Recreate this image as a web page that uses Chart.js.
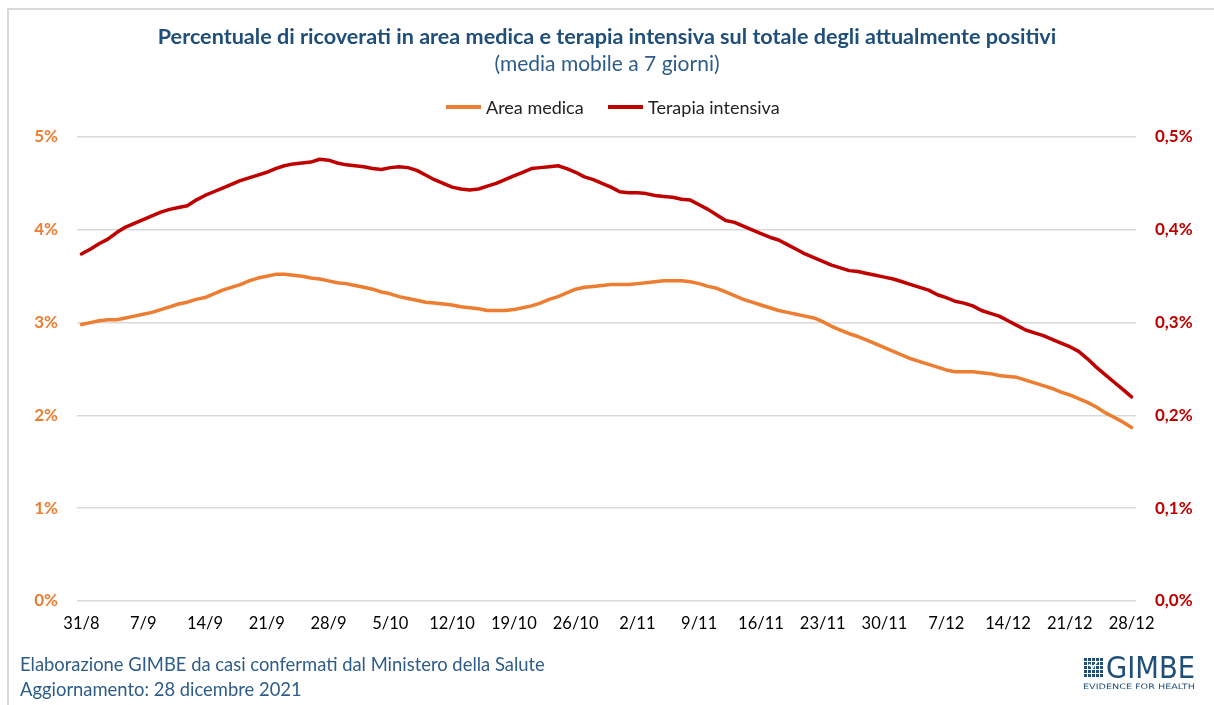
<!DOCTYPE html>
<html><head><meta charset="utf-8">
<script src="https://cdn.jsdelivr.net/npm/chart.js@4"></script>
<style>
html,body{margin:0;padding:0;background:#fff;}
#wrap{position:relative;width:1214px;height:705px;overflow:hidden;font-family:Lato,"Open Sans",sans-serif;background:#fff;}
#frame{position:absolute;left:7px;top:8px;width:1300px;height:800px;border-left:2px solid #d9d9d9;border-top:2px solid #d9d9d9;}
#c{position:absolute;left:0;top:0;}
.t{position:absolute;white-space:nowrap;}
#title{left:0;width:1214px;text-align:center;top:23px;font-weight:bold;font-size:21.6px;color:#1F4E79;}
#sub{left:0;width:1214px;text-align:center;top:50px;font-size:21px;color:#2E5C8A;}
.lg{position:absolute;height:4px;top:105px;width:35px;}
.lt{position:absolute;top:96px;font-size:18px;color:#222;}
.ft{position:absolute;left:20px;font-size:18.4px;color:#2E5C8A;}
#logo{position:absolute;left:1080px;top:650px;}
</style></head>
<body>
<div id="wrap">
 <div id="frame"></div>
 <canvas id="c" width="1214" height="705"></canvas>
 <div class="t" id="title">Percentuale di ricoverati in area medica e terapia intensiva sul totale degli attualmente positivi</div>
 <div class="t" id="sub">(media mobile a 7 giorni)</div>
 <div class="lg" style="left:446px;background:#ED7D31"></div>
 <div class="lt" style="left:486px">Area medica</div>
 <div class="lg" style="left:608px;background:#C00000"></div>
 <div class="lt" style="left:648px">Terapia intensiva</div>
 <div class="ft" style="top:653px">Elaborazione GIMBE da casi confermati dal Ministero della Salute</div>
 <div class="ft" style="top:678px">Aggiornamento: 28 dicembre 2021</div>
 <svg id="logo" width="125" height="45" viewBox="0 0 125 45">
   <defs>
     <pattern id="gp" width="4" height="4" patternUnits="userSpaceOnUse">
       <rect width="4" height="4" fill="#fff"/>
       <rect width="3" height="3" fill="#1F4E79"/>
     </pattern>
   </defs>
   <rect x="3" y="7" width="20" height="20" fill="url(#gp)"/>
   <path d="M9 14 L12.5 18 L17 12" stroke="#fff" stroke-width="1.6" fill="none"/>
   <text x="26" y="28" font-family="DejaVu Sans Condensed, Liberation Sans, sans-serif" font-size="30" fill="#1F4E79" textLength="89" lengthAdjust="spacingAndGlyphs">GIMBE</text>
   <text x="3" y="39" font-family="DejaVu Sans, Liberation Sans, sans-serif" font-size="7.5" fill="#1F4E79" textLength="112" lengthAdjust="spacingAndGlyphs">EVIDENCE FOR HEALTH</text>
 </svg>
</div>
<script>
// Dates: 31/8/2021 .. 28/12/2021 (120 days)
const startDate = [2021, 7, 31];
const nDays = 120;
const categories = [];
for (let i = 0; i < nDays; i++) {
  const d = new Date(startDate[0], startDate[1], startDate[2] + i);
  categories.push(d.getDate() + '/' + (d.getMonth() + 1));
}
const tickLabels = ['31/8','7/9','14/9','21/9','28/9','5/10','12/10','19/10','26/10','2/11','9/11','16/11','23/11','30/11','7/12','14/12','21/12','28/12'];

// Area medica (% on left axis)
const areaMedica = [
 2.98,3.00,3.02,3.03,3.03,3.05,3.07,3.09,3.11,3.14,
 3.17,3.20,3.22,3.25,3.27,3.31,3.35,3.38,3.41,3.45,
 3.48,3.50,3.52,3.52,3.51,3.50,3.48,3.47,3.45,3.43,
 3.42,3.40,3.38,3.36,3.33,3.31,3.28,3.26,3.24,3.22,
 3.21,3.20,3.19,3.17,3.16,3.15,3.13,3.13,3.13,3.14,
 3.16,3.18,3.21,3.25,3.28,3.32,3.36,3.38,3.39,3.40,
 3.41,3.41,3.41,3.42,3.43,3.44,3.45,3.45,3.45,3.44,
 3.42,3.39,3.37,3.33,3.29,3.25,3.22,3.19,3.16,3.13,
 3.11,3.09,3.07,3.05,3.01,2.96,2.92,2.88,2.85,2.81,
 2.77,2.73,2.69,2.65,2.61,2.58,2.55,2.52,2.49,2.47,
 2.47,2.47,2.46,2.45,2.43,2.42,2.41,2.38,2.35,2.32,
 2.29,2.25,2.22,2.18,2.14,2.09,2.03,1.98,1.93,1.87
];
// Terapia intensiva (% on right axis)
const terapiaIntensiva = [
 0.374,0.379,0.385,0.390,0.397,0.403,0.407,0.411,0.415,0.419,
 0.422,0.424,0.426,0.432,0.437,0.441,0.445,0.449,0.453,0.456,
 0.459,0.462,0.466,0.469,0.471,0.472,0.473,0.476,0.475,0.472,
 0.470,0.469,0.468,0.466,0.465,0.467,0.468,0.467,0.464,0.459,
 0.454,0.450,0.446,0.444,0.443,0.444,0.447,0.450,0.454,0.458,
 0.462,0.466,0.467,0.468,0.469,0.466,0.462,0.457,0.454,0.450,
 0.446,0.441,0.440,0.440,0.439,0.437,0.436,0.435,0.433,0.432,
 0.427,0.422,0.416,0.410,0.408,0.404,0.400,0.396,0.392,0.389,
 0.384,0.379,0.374,0.370,0.366,0.362,0.359,0.356,0.355,0.353,
 0.351,0.349,0.347,0.344,0.341,0.338,0.335,0.330,0.327,0.323,
 0.321,0.318,0.313,0.310,0.307,0.302,0.297,0.292,0.289,0.286,
 0.282,0.278,0.274,0.269,0.261,0.252,0.244,0.236,0.228,0.220
];
const leftTicks = [0,1,2,3,4,5];
const rightTicks = [0,0.1,0.2,0.3,0.4,0.5];

new Chart(document.getElementById('c'), {
  type: 'line',
  data: {
    labels: categories,
    datasets: [
      {label:'Area medica', data: areaMedica, yAxisID:'yL', borderColor:'#ED7D31', backgroundColor:'#ED7D31', borderWidth:3.5, pointRadius:0, tension:0, borderCapStyle:'round', borderJoinStyle:'round'},
      {label:'Terapia intensiva', data: terapiaIntensiva, yAxisID:'yR', borderColor:'#C00000', backgroundColor:'#C00000', borderWidth:3.5, pointRadius:0, tension:0, borderCapStyle:'round', borderJoinStyle:'round'}
    ]
  },
  options: {
    responsive:false, animation:false, devicePixelRatio:1,
    layout:{padding:{top:137,bottom:64,left:0,right:0}},
    plugins:{legend:{display:false}, tooltip:{enabled:false}},
    scales:{
      x:{
        type:'category', offset:true,
        grid:{display:false, drawTicks:false}, border:{display:false},
        ticks:{autoSkip:false, maxRotation:0, minRotation:0, padding:13, color:'#000', font:{family:'Lato', size:16.5},
          callback:function(v, i){ return i % 7 === 0 ? tickLabels[i/7] : ''; }},
        afterFit:function(s){ s.height = 40; }
      },
      yL:{
        position:'left', min:0, max:5,
        afterBuildTicks:function(s){ s.ticks = leftTicks.map(v=>({value:v})); },
        grid:{color:'#D9D9D9', lineWidth:1.5, drawTicks:false}, border:{display:false},
        ticks:{padding:19, color:'#ED7D31', font:{family:'Lato', size:17, weight:'bold'},
          callback:function(v){ return v + '%'; }},
        afterFit:function(s){ s.width = 77; }
      },
      yR:{
        position:'right', min:0, max:0.5,
        afterBuildTicks:function(s){ s.ticks = rightTicks.map(v=>({value:v})); },
        grid:{drawOnChartArea:false, drawTicks:false}, border:{display:false},
        ticks:{padding:19, color:'#C00000', font:{family:'Lato', size:17, weight:'bold'},
          callback:function(v){ return v.toFixed(1).replace('.', ',') + '%'; }},
        afterFit:function(s){ s.width = 78; }
      }
    }
  }
});
</script>
</body></html>
